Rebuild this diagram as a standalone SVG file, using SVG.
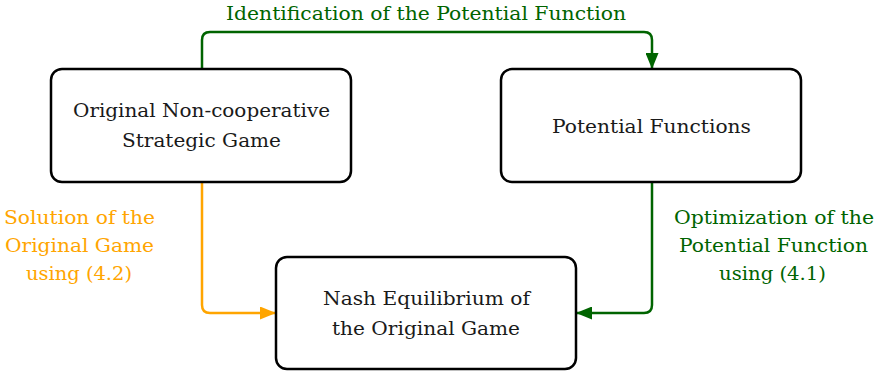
<svg xmlns="http://www.w3.org/2000/svg" width="878" height="371" viewBox="0 0 878 371">
<style>
.box{fill:#fff;stroke:#000;stroke-width:2.5}
text{font-family:'DejaVu Serif','Liberation Serif','Noto Serif',serif;font-size:19px;text-anchor:middle;fill:#1a1a1a}
.g{fill:#006400}
.o{fill:#FFA500}
.cg{fill:none;stroke:#006400;stroke-width:2.5}
.co{fill:none;stroke:#FFA500;stroke-width:2.5}
</style>
<defs>
<marker id="ag" markerWidth="16" markerHeight="13" refX="16" refY="6.5" orient="auto" markerUnits="userSpaceOnUse" viewBox="0 0 16 13"><path d="M0,0 L16,6.5 L0,13 Z" fill="#006400"/></marker>
<marker id="ao" markerWidth="16" markerHeight="13" refX="16" refY="6.5" orient="auto" markerUnits="userSpaceOnUse" viewBox="0 0 16 13"><path d="M0,0 L16,6.5 L0,13 Z" fill="#FFA500"/></marker>
</defs>
<g id="connectors">
<path class="cg" d="M202,69 V40 Q202,32 210,32 H644 Q652,32 652,40 V69" marker-end="url(#ag)"/>
<path class="co" d="M202,182 V305 Q202,313 210,313 H276" marker-end="url(#ao)"/>
<path class="cg" d="M652,182 V305 Q652,313 644,313 H576" marker-end="url(#ag)"/>
<text class="g" x="426" y="20" textLength="400" lengthAdjust="spacingAndGlyphs">Identification of the Potential Function</text>
<text class="o" x="79.5" y="224" textLength="151" lengthAdjust="spacingAndGlyphs">Solution of the</text>
<text class="o" x="79.5" y="252" textLength="149" lengthAdjust="spacingAndGlyphs">Original Game</text>
<text class="o" x="79" y="280" textLength="106" lengthAdjust="spacingAndGlyphs">using (4.2)</text>
<text class="g" x="774" y="224" textLength="200" lengthAdjust="spacingAndGlyphs">Optimization of the</text>
<text class="g" x="773.5" y="252" textLength="189" lengthAdjust="spacingAndGlyphs">Potential Function</text>
<text class="g" x="772.5" y="280" textLength="107" lengthAdjust="spacingAndGlyphs">using (4.1)</text>
</g>
<g id="original">
<rect class="box" x="51" y="69" width="300" height="113" rx="11"/>
<text x="201.5" y="117" textLength="257" lengthAdjust="spacingAndGlyphs">Original Non-cooperative</text>
<text x="201.5" y="147" textLength="159" lengthAdjust="spacingAndGlyphs">Strategic Game</text>
</g>
<g id="potential">
<rect class="box" x="501" y="69" width="300" height="113" rx="11"/>
<text x="651.5" y="133" textLength="199" lengthAdjust="spacingAndGlyphs">Potential Functions</text>
</g>
<g id="nash">
<rect class="box" x="276" y="257" width="300" height="112" rx="11"/>
<text x="426.5" y="305" textLength="207" lengthAdjust="spacingAndGlyphs">Nash Equilibrium of</text>
<text x="426" y="335" textLength="188" lengthAdjust="spacingAndGlyphs">the Original Game</text>
</g>
</svg>
